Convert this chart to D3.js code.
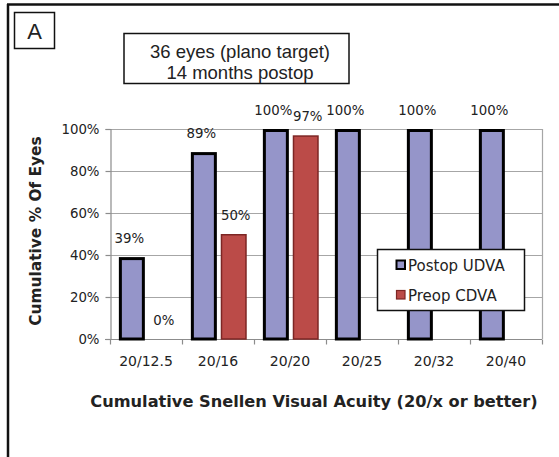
<!DOCTYPE html>
<html>
<head>
<meta charset="utf-8">
<script src="https://cdn.jsdelivr.net/npm/d3@7"></script>
<style>
  body { margin: 0; background: #fff; }
  text { font-family: "DejaVu Sans", Verdana, sans-serif; fill: #222; }
</style>
</head>
<body>
<div id="chart"></div>
<script>
const categories = ["20/12.5", "20/16", "20/20", "20/25", "20/32", "20/40"];
const seriesNames = ["Postop UDVA", "Preop CDVA"];
const postopUDVA = [0.39, 0.89, 1.00, 1.00, 1.00, 1.00];
const preopCDVA = [0.00, 0.50, 0.97, null, null, null];
const yTicks = [0, 0.2, 0.4, 0.6, 0.8, 1.0];

const W = 559, H = 457;
const plot = { left: 110, right: 542, top: 129, bottom: 339 };

const svg = d3.select("#chart").append("svg")
  .attr("width", W)
  .attr("height", H);

// outer frame (only top and left edges show in the picture)
svg.append("line").attr("x1", 7).attr("x2", W).attr("y1", 4.5).attr("y2", 4.5)
  .attr("stroke", "#111").attr("stroke-width", 2.5);
svg.append("line").attr("x1", 8).attr("x2", 8).attr("y1", 4).attr("y2", H)
  .attr("stroke", "#111").attr("stroke-width", 2.5);

// panel letter
svg.append("rect").attr("x", 14.5).attr("y", 12.5).attr("width", 40).attr("height", 36)
  .attr("fill", "#fff").attr("stroke", "#111").attr("stroke-width", 1.5);
svg.append("text").attr("x", 34.5).attr("y", 38.5)
  .attr("text-anchor", "middle")
  .style("font-family", "'Liberation Sans', Arial, sans-serif")
  .style("font-size", "22px")
  .text("A");

// title box
svg.append("rect").attr("x", 124).attr("y", 33.5).attr("width", 225).attr("height", 50)
  .attr("fill", "#fff").attr("stroke", "#111").attr("stroke-width", 1.5);
const titleLines = ["36 eyes (plano target)", "14 months postop"];
svg.append("g")
  .selectAll("text")
  .data(titleLines)
  .enter().append("text")
  .attr("x", 240)
  .attr("y", (d, i) => 57.5 + i * 21)
  .attr("text-anchor", "middle")
  .style("font-family", "'Liberation Sans', Arial, sans-serif")
  .style("font-size", "18.5px")
  .text(d => d);

const x0 = d3.scaleBand().domain(categories).range([plot.left, plot.right]);
const x1 = d3.scaleBand().domain(seriesNames).range([0, x0.bandwidth()])
  .paddingInner(0.13).paddingOuter(0.27).align(0.55);
const y = d3.scaleLinear().domain([0, 1]).range([plot.bottom, plot.top]);

// gridlines
svg.append("g")
  .selectAll("line")
  .data(yTicks.filter(d => d > 0))
  .enter().append("line")
  .attr("x1", plot.left).attr("x2", plot.right)
  .attr("y1", d => y(d) + 0.5).attr("y2", d => y(d) + 0.5)
  .attr("stroke", "#a6a6a6").attr("stroke-width", 1.2);

// plot right edge
svg.append("line").attr("x1", plot.right + 0.5).attr("x2", plot.right + 0.5)
  .attr("y1", plot.top).attr("y2", plot.bottom)
  .attr("stroke", "#a6a6a6").attr("stroke-width", 1.2);

// y axis
const yAxis = svg.append("g")
  .attr("transform", "translate(" + (plot.left + 0.5) + ",0)")
  .call(d3.axisLeft(y).tickValues(yTicks).tickFormat(d3.format(".0%")).tickSize(5).tickPadding(6));
yAxis.selectAll("path, line").attr("stroke", "#8c8c8c").attr("stroke-width", 1.2);
yAxis.selectAll("text").style("font-size", "13.3px").attr("fill", "#222");

// x axis: ticks at category boundaries
const xAxisG = svg.append("g").attr("transform", "translate(0," + (plot.bottom + 0.5) + ")");
xAxisG.append("line").attr("x1", plot.left - 5).attr("x2", plot.right)
  .attr("stroke", "#8c8c8c").attr("stroke-width", 1.2);
xAxisG.selectAll(".tick")
  .data(categories.map(c => x0(c)).concat([plot.right]))
  .enter().append("line")
  .attr("x1", d => d + 0.5).attr("x2", d => d + 0.5)
  .attr("y1", 0).attr("y2", 5)
  .attr("stroke", "#8c8c8c").attr("stroke-width", 1.2);
xAxisG.selectAll(".lbl")
  .data(categories)
  .enter().append("text")
  .attr("x", d => x0(d) + x0.bandwidth() / 2)
  .attr("y", 26)
  .attr("text-anchor", "middle")
  .style("font-size", "14px")
  .text(d => d);

// bars
const seriesStyle = {
  "Postop UDVA": { fill: "#9595c9", stroke: "#000", sw: 3, dx: -2.5 },
  "Preop CDVA": { fill: "#bb4b48", stroke: "#7d2624", sw: 1.5, dx: 2 }
};
const rows = [];
categories.forEach((c, i) => {
  rows.push({ cat: c, s: "Postop UDVA", v: postopUDVA[i] });
  rows.push({ cat: c, s: "Preop CDVA", v: preopCDVA[i] });
});
const valid = rows.filter(d => d.v !== null);

svg.append("g")
  .selectAll("rect")
  .data(valid.filter(d => d.v > 0))
  .enter().append("rect")
  .attr("x", d => x0(d.cat) + x1(d.s) + seriesStyle[d.s].sw / 2)
  .attr("width", d => x1.bandwidth() - seriesStyle[d.s].sw)
  .attr("y", d => y(d.v) + seriesStyle[d.s].sw / 2)
  .attr("height", d => y(0) - y(d.v) - seriesStyle[d.s].sw / 2)
  .attr("fill", d => seriesStyle[d.s].fill)
  .attr("stroke", d => seriesStyle[d.s].stroke)
  .attr("stroke-width", d => seriesStyle[d.s].sw);

// value labels (nudged apart like the original)
svg.append("g")
  .selectAll("text")
  .data(valid)
  .enter().append("text")
  .attr("x", d => x0(d.cat) + x1(d.s) + x1.bandwidth() / 2 + seriesStyle[d.s].dx)
  .attr("y", d => y(d.v) - 14)
  .attr("text-anchor", "middle")
  .style("font-size", "13.3px")
  .text(d => d3.format(".0%")(d.v));

// axis titles
svg.append("text")
  .attr("x", 314).attr("y", 407)
  .attr("text-anchor", "middle")
  .style("font-size", "16.2px").style("font-weight", "bold").attr("fill", "#111")
  .text("Cumulative Snellen Visual Acuity (20/x or better)");
svg.append("text")
  .attr("transform", "translate(41,231) rotate(-90)")
  .attr("text-anchor", "middle")
  .style("font-size", "15.4px").style("font-weight", "bold").attr("fill", "#111")
  .text("Cumulative % Of Eyes");

// legend
const legend = svg.append("g");
legend.append("rect").attr("x", 377.5).attr("y", 249.5).attr("width", 147).attr("height", 61)
  .attr("fill", "#fff").attr("stroke", "#111").attr("stroke-width", 1.5);
seriesNames.forEach((s, i) => {
  const cy = 265 + i * 30;
  legend.append("rect")
    .attr("x", 396.5).attr("y", cy - 4.5).attr("width", 8.5).attr("height", 8.5)
    .attr("fill", seriesStyle[s].fill)
    .attr("stroke", seriesStyle[s].stroke)
    .attr("stroke-width", i === 0 ? 2 : 1.2);
  legend.append("text")
    .attr("x", 408).attr("y", cy + 5.5)
    .style("font-size", "15px")
    .text(s);
});
</script>
</body>
</html>
